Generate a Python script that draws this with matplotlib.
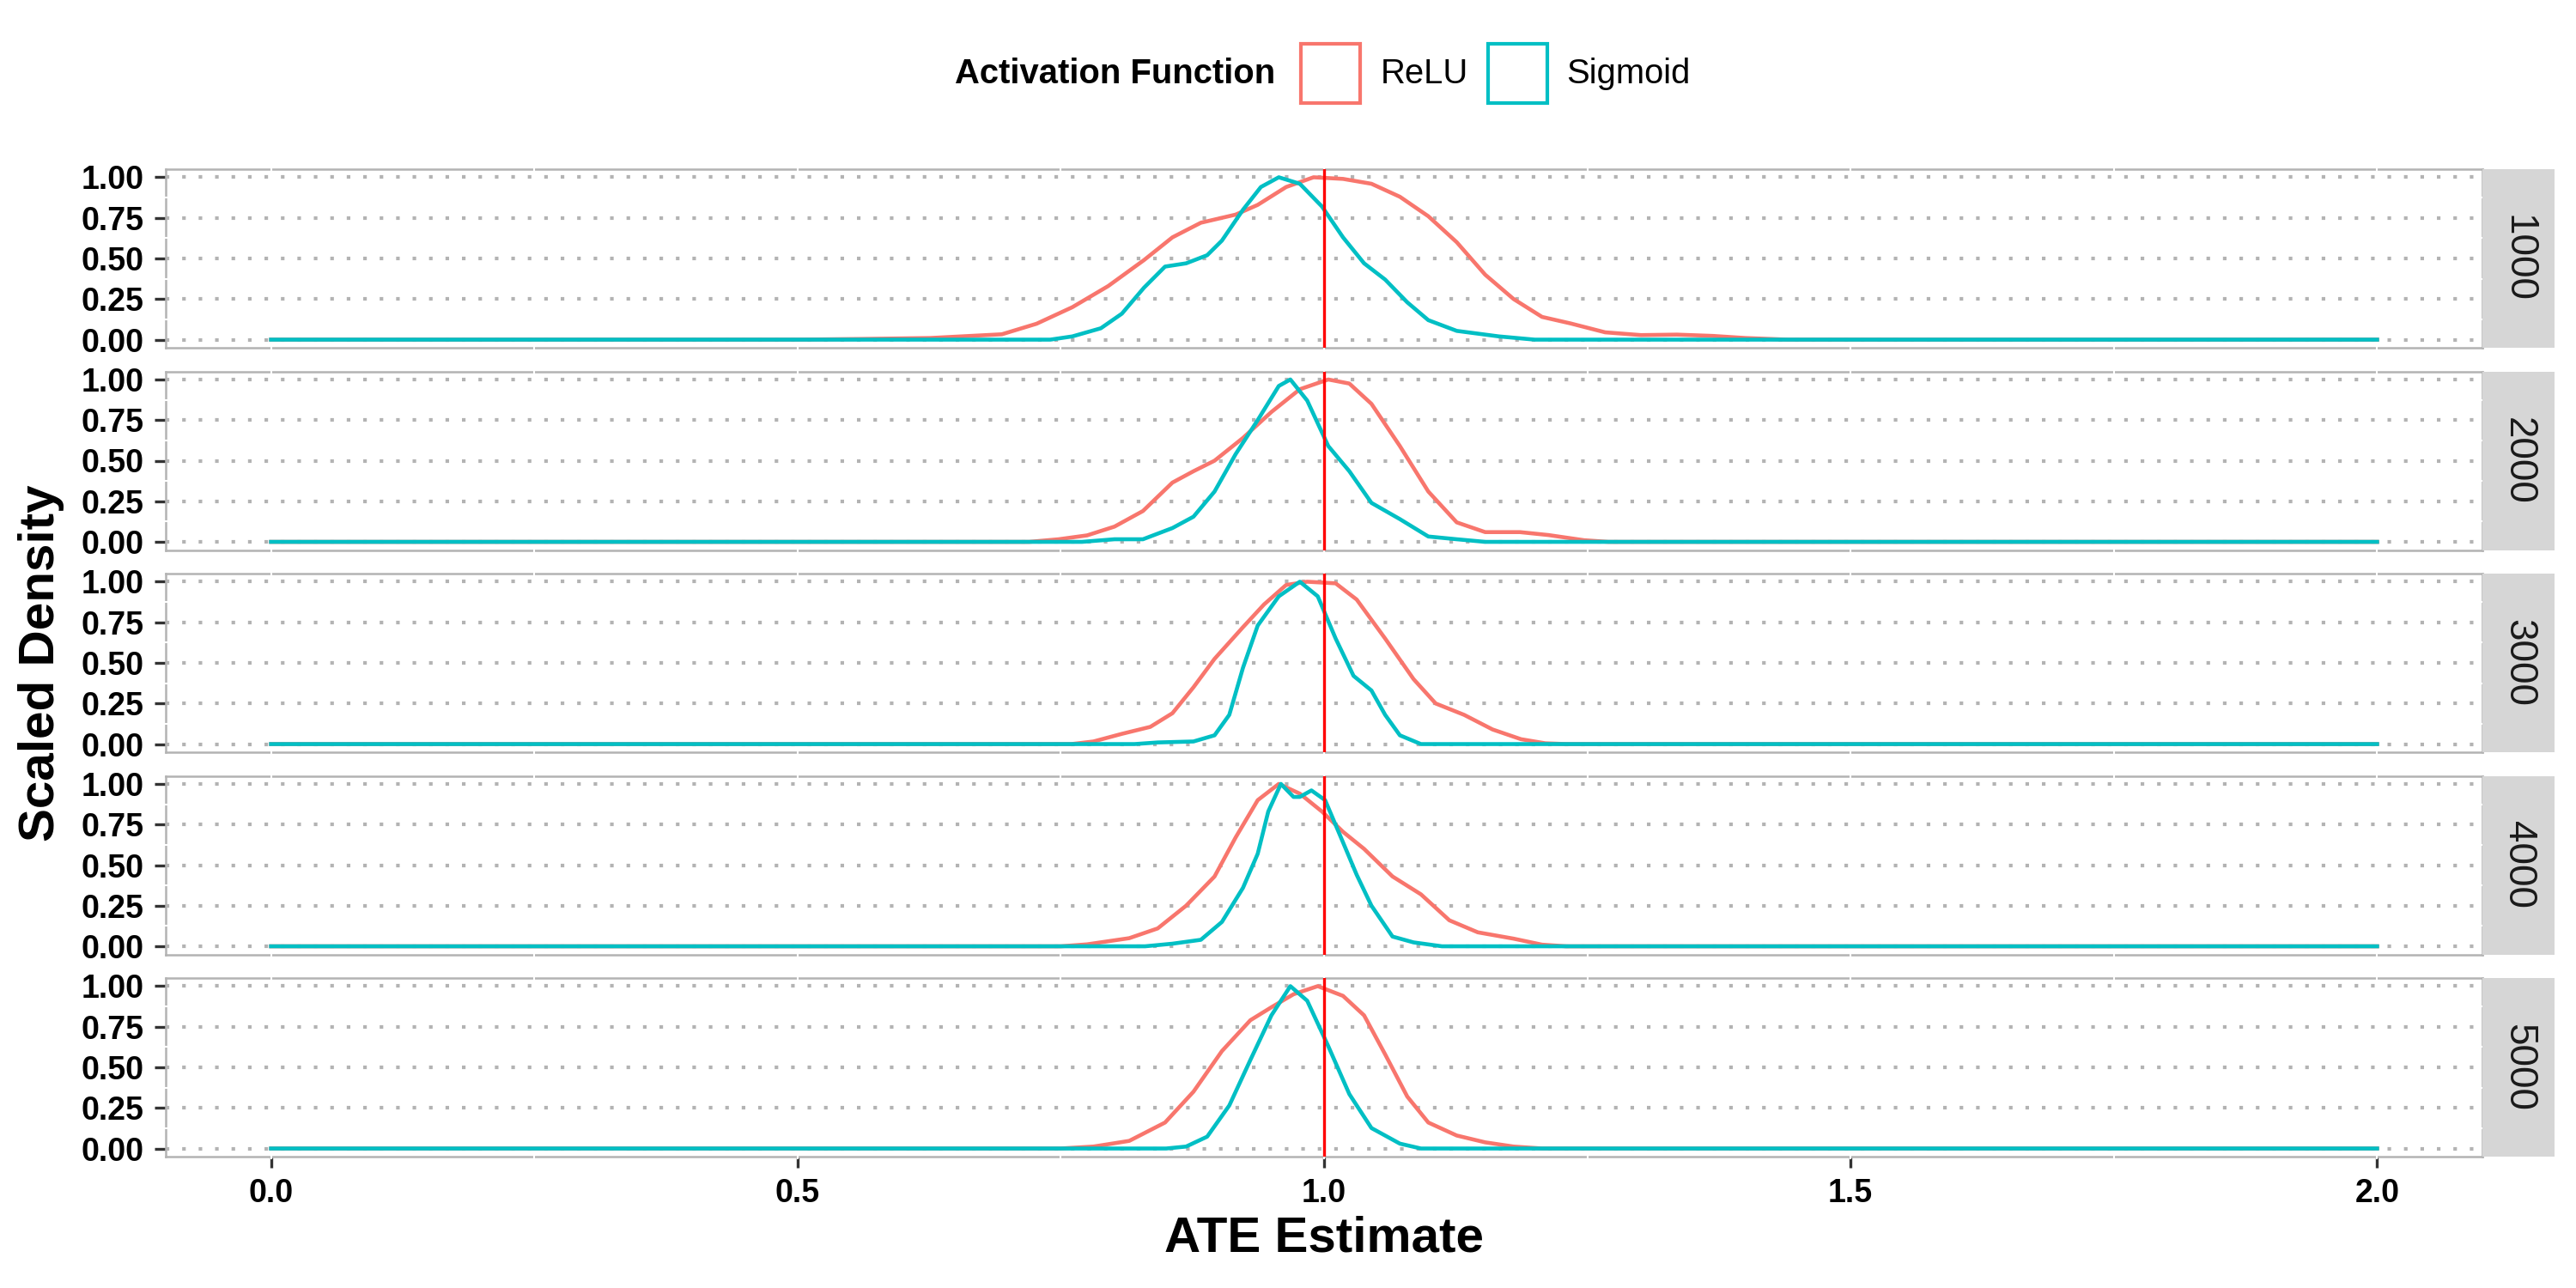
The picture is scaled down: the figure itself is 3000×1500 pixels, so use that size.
import matplotlib.pyplot as plt
from matplotlib.patches import Rectangle

plt.rcParams['font.family'] = ['Liberation Sans', 'DejaVu Sans']

# facet labels (sample size) and groups
sample_sizes = ['1000', '2000', '3000', '4000', '5000']
activations = ['ReLU', 'Sigmoid']
act_colors = ['#F8766D', '#00BFC4']
true_ate = 1.0
x_ticks = [0.0, 0.5, 1.0, 1.5, 2.0]
y_ticks = [0.0, 0.25, 0.5, 0.75, 1.0]

# scaled density curves
relu_x_1000 = [0.0, 0.50, 0.56, 0.626, 0.694, 0.727, 0.761, 0.795, 0.829, 0.856, 0.883, 0.916, 0.937, 0.964,
               0.99, 1.018, 1.045, 1.072, 1.099, 1.126, 1.153, 1.18, 1.207, 1.234, 1.267, 1.301, 1.335,
               1.369, 1.40, 1.44, 2.0]
relu_y_1000 = [0, 0, 0.004, 0.01, 0.033, 0.098, 0.20, 0.33, 0.49, 0.63, 0.72, 0.77, 0.83, 0.94,
               1.0, 0.99, 0.96, 0.88, 0.76, 0.60, 0.40, 0.25, 0.14, 0.10, 0.045, 0.028, 0.031,
               0.023, 0.01, 0, 0]
sig_x_1000 = [0.0, 0.74, 0.761, 0.788, 0.808, 0.829, 0.849, 0.869, 0.889, 0.903, 0.923, 0.94, 0.957, 0.977,
              0.998, 1.018, 1.038, 1.058, 1.079, 1.099, 1.126, 1.166, 1.2, 2.0]
sig_y_1000 = [0, 0, 0.02, 0.07, 0.16, 0.32, 0.45, 0.47, 0.52, 0.61, 0.80, 0.94, 1.0, 0.96,
              0.82, 0.63, 0.47, 0.37, 0.23, 0.12, 0.054, 0.02, 0, 0]

relu_x_2000 = [0.0, 0.72, 0.748, 0.775, 0.801, 0.828, 0.856, 0.876, 0.896, 0.923, 0.95, 0.977, 1.004, 1.024,
               1.045, 1.072, 1.099, 1.126, 1.153, 1.186, 1.213, 1.247, 1.27, 2.0]
relu_y_2000 = [0, 0, 0.016, 0.04, 0.094, 0.19, 0.365, 0.435, 0.50, 0.64, 0.80, 0.94, 1.0, 0.975,
               0.85, 0.59, 0.31, 0.12, 0.06, 0.06, 0.042, 0.01, 0, 0]
sig_x_2000 = [0.0, 0.77, 0.801, 0.828, 0.856, 0.876, 0.896, 0.916, 0.937, 0.957, 0.968, 0.984, 1.004, 1.024,
              1.045, 1.072, 1.099, 1.126, 1.153, 2.0]
sig_y_2000 = [0, 0, 0.016, 0.016, 0.085, 0.155, 0.31, 0.54, 0.75, 0.96, 1.0, 0.87, 0.59, 0.435,
              0.24, 0.14, 0.033, 0.016, 0, 0]

relu_x_3000 = [0.0, 0.76, 0.781, 0.808, 0.835, 0.856, 0.876, 0.896, 0.923, 0.943, 0.964, 0.984, 1.011, 1.031,
               1.058, 1.085, 1.106, 1.133, 1.16, 1.187, 1.21, 1.23, 2.0]
relu_y_3000 = [0, 0, 0.016, 0.063, 0.106, 0.19, 0.35, 0.525, 0.72, 0.86, 0.98, 1.0, 0.99, 0.89,
               0.65, 0.40, 0.25, 0.18, 0.09, 0.03, 0.005, 0, 0]
sig_x_3000 = [0.0, 0.82, 0.842, 0.876, 0.896, 0.91, 0.923, 0.937, 0.957, 0.977, 0.994, 1.011, 1.028, 1.045,
              1.058, 1.072, 1.092, 2.0]
sig_y_3000 = [0, 0, 0.01, 0.016, 0.054, 0.18, 0.47, 0.73, 0.91, 1.0, 0.91, 0.65, 0.42, 0.33,
              0.18, 0.054, 0, 0]

relu_x_4000 = [0.0, 0.75, 0.775, 0.815, 0.842, 0.869, 0.896, 0.916, 0.937, 0.957, 0.977, 0.998, 1.018, 1.038,
               1.065, 1.092, 1.119, 1.146, 1.18, 1.207, 1.23, 2.0]
relu_y_4000 = [0, 0, 0.012, 0.05, 0.11, 0.25, 0.43, 0.67, 0.90, 1.0, 0.94, 0.83, 0.705, 0.60,
               0.43, 0.32, 0.16, 0.086, 0.047, 0.01, 0, 0]
sig_x_4000 = [0.0, 0.83, 0.856, 0.883, 0.903, 0.923, 0.937, 0.947, 0.959, 0.971, 0.977, 0.988, 1.001, 1.018,
              1.031, 1.045, 1.065, 1.085, 1.112, 2.0]
sig_y_4000 = [0, 0, 0.016, 0.04, 0.15, 0.36, 0.57, 0.83, 1.0, 0.92, 0.92, 0.96, 0.90, 0.64,
              0.44, 0.25, 0.06, 0.024, 0, 0]

relu_x_5000 = [0.0, 0.75, 0.781, 0.815, 0.849, 0.876, 0.903, 0.93, 0.95, 0.971, 0.994, 1.018, 1.038, 1.058,
               1.079, 1.099, 1.126, 1.153, 1.18, 1.207, 2.0]
relu_y_5000 = [0, 0, 0.012, 0.047, 0.16, 0.35, 0.60, 0.79, 0.87, 0.95, 1.0, 0.94, 0.82, 0.58,
               0.32, 0.16, 0.08, 0.038, 0.012, 0, 0]
sig_x_5000 = [0.0, 0.85, 0.869, 0.889, 0.91, 0.93, 0.95, 0.968, 0.984, 1.004, 1.024, 1.045, 1.072, 1.092, 2.0]
sig_y_5000 = [0, 0, 0.012, 0.073, 0.265, 0.545, 0.82, 1.0, 0.91, 0.63, 0.335, 0.126, 0.03, 0, 0]

curves = {
    '1000': [(relu_x_1000, relu_y_1000), (sig_x_1000, sig_y_1000)],
    '2000': [(relu_x_2000, relu_y_2000), (sig_x_2000, sig_y_2000)],
    '3000': [(relu_x_3000, relu_y_3000), (sig_x_3000, sig_y_3000)],
    '4000': [(relu_x_4000, relu_y_4000), (sig_x_4000, sig_y_4000)],
    '5000': [(relu_x_5000, relu_y_5000), (sig_x_5000, sig_y_5000)],
}

W, H = 3000, 1500
fig = plt.figure(figsize=(10, 5), dpi=300)

left_px, right_px = 193, 2891
top0, pitch, ph = 197, 235.5, 208
strip_w = 84
grid_gray = '#B3B3B3'

for i, n in enumerate(sample_sizes):
    top = top0 + i * pitch
    rect = [left_px / W, 1 - (top + ph) / H, (right_px - left_px) / W, ph / H]
    ax = fig.add_axes(rect)
    ax.set_xlim(-0.1, 2.1)
    ax.set_ylim(-0.05, 1.05)

    # dotted major y grid
    for yv in y_ticks:
        ax.axhline(yv, color=grid_gray, lw=1.0, dashes=(1.0, 3.6), zorder=1)
    # white minor grid cutting the border
    for xv in [0, 0.25, 0.5, 0.75, 1.0, 1.25, 1.5, 1.75, 2.0]:
        ax.axvline(xv, ymin=-0.01, ymax=1.01, color='white', lw=0.5, zorder=3, clip_on=False)
    for yv in [0.125, 0.375, 0.625, 0.875]:
        ax.axhline(yv, xmin=-0.003, xmax=1.003, color='white', lw=0.5, zorder=3, clip_on=False)

    for (xs, ys), c in zip(curves[n], act_colors):
        ax.plot(xs, ys, color=c, lw=1.1, zorder=4, solid_joinstyle='round')
    ax.axvline(true_ate, color='#FF0000', lw=0.8, zorder=5)

    for s in ax.spines.values():
        s.set_color(grid_gray)
        s.set_linewidth(0.6)
        s.set_zorder(2)

    ax.set_yticks(y_ticks)
    ax.set_yticklabels(['0.00', '0.25', '0.50', '0.75', '1.00'])
    ax.set_xticks(x_ticks)
    ax.tick_params(axis='both', length=3.1, width=0.8, color='#333333', pad=3.0,
                   labelsize=9, labelcolor='black')
    for lab in ax.get_yticklabels():
        lab.set_fontweight('bold')
    if i < len(sample_sizes) - 1:
        ax.tick_params(axis='x', bottom=False, labelbottom=False)
    else:
        ax.set_xticklabels(['0.0', '0.5', '1.0', '1.5', '2.0'])
        for lab in ax.get_xticklabels():
            lab.set_fontweight('bold')

    # facet strip on the right
    sax = fig.add_axes([right_px / W, 1 - (top + ph) / H, strip_w / W, ph / H])
    sax.set_facecolor('#D6D6D6')
    sax.set_xticks([])
    sax.set_yticks([])
    for s in sax.spines.values():
        s.set_visible(False)
    sax.text(0.5, 0.5, n, rotation=-90, ha='center', va='center', fontsize=11,
             color='#1A1A1A', transform=sax.transAxes)

# axis titles
fig.text(48 / W, 1 - 772 / H, 'Scaled Density', rotation=90, ha='center', va='center',
         fontsize=14, fontweight='bold')
fig.text((left_px + right_px) / 2 / W, 1 - 1442 / H, 'ATE Estimate', ha='center', va='center',
         fontsize=14, fontweight='bold')

# legend on top
leg_y = 1 - 86 / H
fig.text(1112 / W, leg_y, 'Activation Function', ha='left', va='center', fontsize=9.6,
         fontweight='bold')
box_x = [1515, 1733]
text_x = [1608, 1824]
for name, c, bx, tx in zip(activations, act_colors, box_x, text_x):
    fig.patches.append(Rectangle((bx / W, 1 - 120 / H), 69 / W, 69 / H, transform=fig.transFigure,
                                 facecolor='none', edgecolor=c, lw=1.0))
    fig.text(tx / W, leg_y, name, ha='left', va='center', fontsize=9.6)

fig.savefig('out.png', dpi=300)
